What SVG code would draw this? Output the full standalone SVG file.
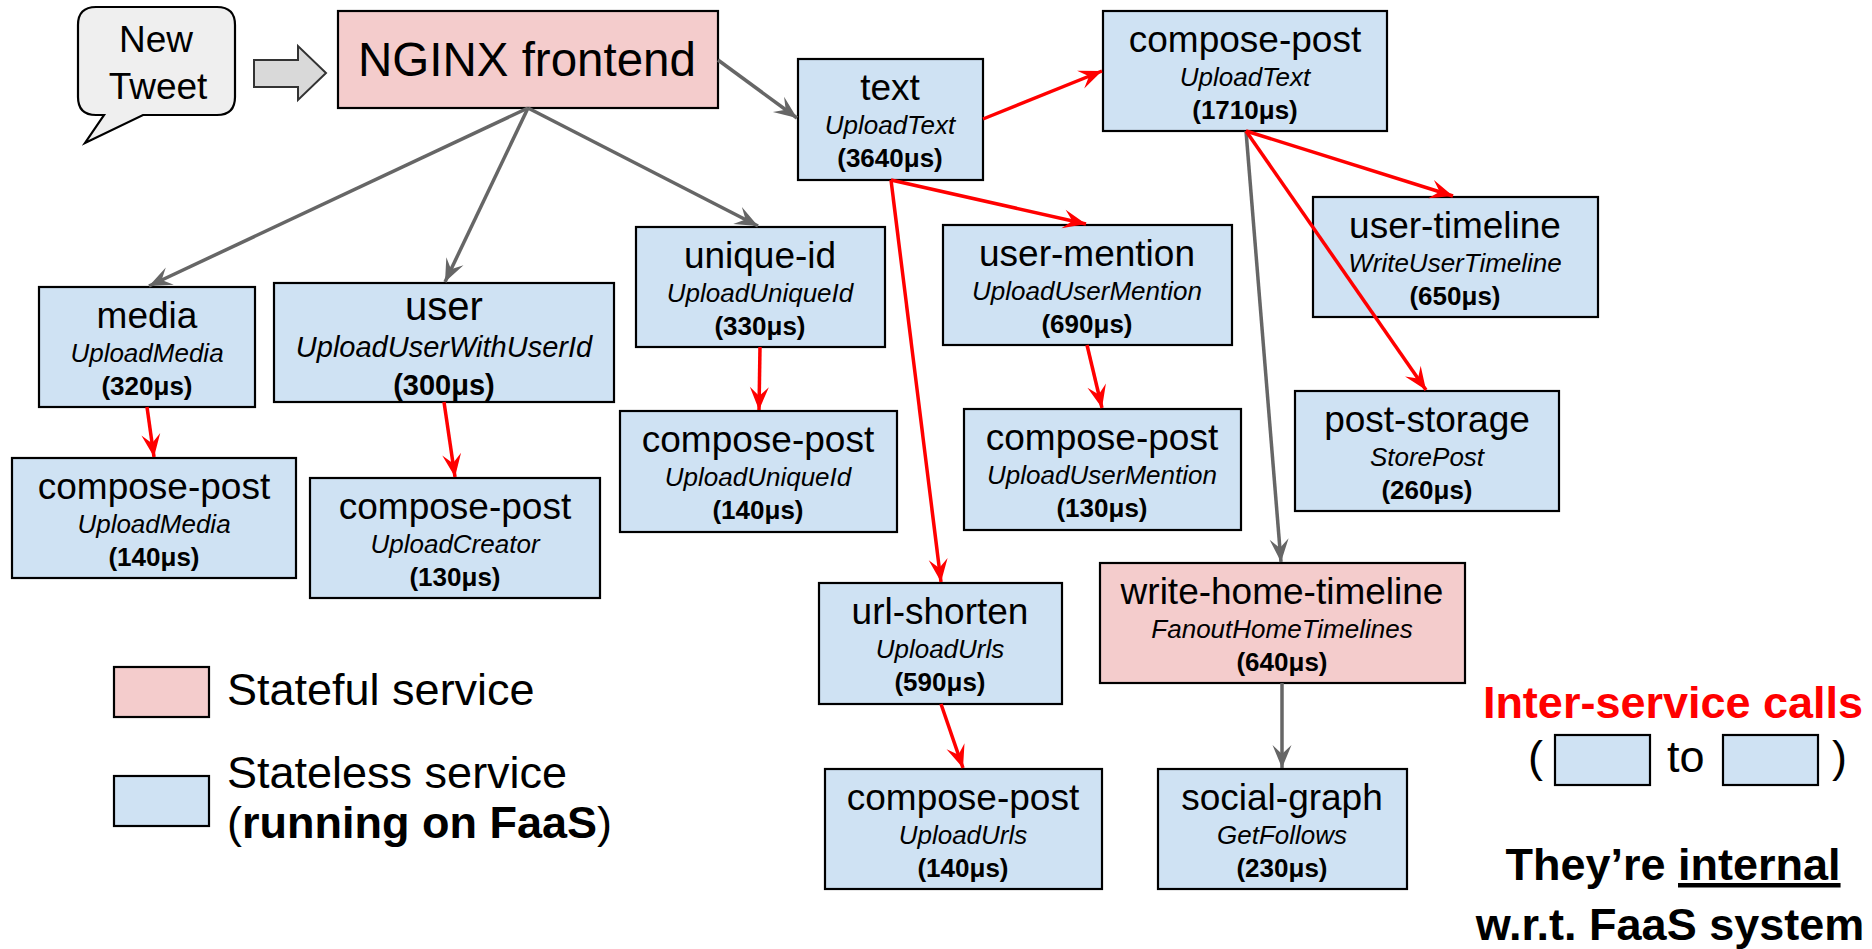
<svg xmlns="http://www.w3.org/2000/svg" width="1872" height="949" viewBox="0 0 1872 949">
  <style>
    text { font-family: "Liberation Sans", Arial, sans-serif; fill: #000; }
    .box { stroke: #000; stroke-width: 2.2; }
    .stateless { fill: #cfe2f3; }
    .stateful { fill: #f4cccc; }
    .t { font-size: 37px; text-anchor: middle; }
    .s { font-size: 26px; font-style: italic; text-anchor: middle; }
    .b { font-size: 26px; font-weight: bold; text-anchor: middle; }
    .tl { font-size: 40px; text-anchor: middle; }
    .sl { font-size: 29px; font-style: italic; text-anchor: middle; }
    .bl { font-size: 29px; font-weight: bold; text-anchor: middle; }
    .gray { stroke: #666; stroke-width: 3.5; fill: none; marker-end: url(#headGray); }
    .red { stroke: #f00; stroke-width: 3.5; fill: none; marker-end: url(#headRed); }
    .legend { font-size: 45px; }
    .note { font-size: 45px; font-weight: bold; text-anchor: middle; }
  </style>
  <defs>
    <marker id="headGray" markerUnits="userSpaceOnUse" markerWidth="26" markerHeight="22" viewBox="-24 -11 26 22" refX="0" refY="0" orient="auto">
      <path d="M0,0 L-23,-9.5 L-14,0 L-23,9.5 Z" fill="#666"/>
    </marker>
    <marker id="headRed" markerUnits="userSpaceOnUse" markerWidth="26" markerHeight="22" viewBox="-24 -11 26 22" refX="0" refY="0" orient="auto">
      <path d="M0,0 L-23,-9.5 L-14,0 L-23,9.5 Z" fill="#f00"/>
    </marker>
  </defs>
  <rect width="1872" height="949" fill="#fff"/>

  <!-- incoming request -->
  <g id="new-tweet">
    <path d="M96,7 H217 Q235,7 235,25 V97 Q235,115 217,115 H143 L85,143 L104,115 H96 Q78,115 78,97 V25 Q78,7 96,7 Z" fill="#efefef" stroke="#000" stroke-width="2.2"/>
    <text x="156" y="52" font-size="37" text-anchor="middle">New</text>
    <text x="158" y="99" font-size="37" text-anchor="middle">Tweet</text>
  </g>
  <g id="request-arrow">
    <path d="M254,60 H298 V46 L326,73 L298,100 V87 H254 Z" fill="#d9d9d9" stroke="#333" stroke-width="2"/>
  </g>

  <g id="nginx">
    <rect class="box stateful" x="338" y="11" width="380" height="97"/>
    <text x="527" y="76" font-size="47.5" text-anchor="middle">NGINX frontend</text>
  </g>

  <g id="text">
    <rect class="box stateless" x="798" y="59" width="185" height="121"/>
    <text class="t" x="890" y="100">text</text>
    <text class="s" x="890" y="134">UploadText</text>
    <text class="b" x="890" y="167">(3640μs)</text>
  </g>

  <g id="compose-post-text">
    <rect class="box stateless" x="1103" y="11" width="284" height="120"/>
    <text class="t" x="1245" y="52">compose-post</text>
    <text class="s" x="1245" y="86">UploadText</text>
    <text class="b" x="1245" y="119">(1710μs)</text>
  </g>

  <g id="media">
    <rect class="box stateless" x="39" y="287" width="216" height="120"/>
    <text class="t" x="147" y="328">media</text>
    <text class="s" x="147" y="362">UploadMedia</text>
    <text class="b" x="147" y="395">(320μs)</text>
  </g>

  <g id="user">
    <rect class="box stateless" x="274" y="283" width="340" height="119"/>
    <text class="tl" x="444" y="320">user</text>
    <text class="sl" x="444" y="357">UploadUserWithUserId</text>
    <text class="bl" x="444" y="395">(300μs)</text>
  </g>

  <g id="compose-post-media">
    <rect class="box stateless" x="12" y="458" width="284" height="120"/>
    <text class="t" x="154" y="499">compose-post</text>
    <text class="s" x="154" y="533">UploadMedia</text>
    <text class="b" x="154" y="566">(140μs)</text>
  </g>

  <g id="compose-post-creator">
    <rect class="box stateless" x="310" y="478" width="290" height="120"/>
    <text class="t" x="455" y="519">compose-post</text>
    <text class="s" x="455" y="553">UploadCreator</text>
    <text class="b" x="455" y="586">(130μs)</text>
  </g>

  <g id="unique-id">
    <rect class="box stateless" x="636" y="227" width="249" height="120"/>
    <text class="t" x="760" y="268">unique-id</text>
    <text class="s" x="760" y="302">UploadUniqueId</text>
    <text class="b" x="760" y="335">(330μs)</text>
  </g>

  <g id="compose-post-unique-id">
    <rect class="box stateless" x="620" y="411" width="277" height="121"/>
    <text class="t" x="758" y="452">compose-post</text>
    <text class="s" x="758" y="486">UploadUniqueId</text>
    <text class="b" x="758" y="519">(140μs)</text>
  </g>

  <g id="user-mention">
    <rect class="box stateless" x="943" y="225" width="289" height="120"/>
    <text class="t" x="1087" y="266">user-mention</text>
    <text class="s" x="1087" y="300">UploadUserMention</text>
    <text class="b" x="1087" y="333">(690μs)</text>
  </g>

  <g id="compose-post-user-mention">
    <rect class="box stateless" x="964" y="409" width="277" height="121"/>
    <text class="t" x="1102" y="450">compose-post</text>
    <text class="s" x="1102" y="484">UploadUserMention</text>
    <text class="b" x="1102" y="517">(130μs)</text>
  </g>

  <g id="user-timeline">
    <rect class="box stateless" x="1313" y="197" width="285" height="120"/>
    <text class="t" x="1455" y="238">user-timeline</text>
    <text class="s" x="1455" y="272">WriteUserTimeline</text>
    <text class="b" x="1455" y="305">(650μs)</text>
  </g>

  <g id="post-storage">
    <rect class="box stateless" x="1295" y="391" width="264" height="120"/>
    <text class="t" x="1427" y="432">post-storage</text>
    <text class="s" x="1427" y="466">StorePost</text>
    <text class="b" x="1427" y="499">(260μs)</text>
  </g>

  <g id="url-shorten">
    <rect class="box stateless" x="819" y="583" width="243" height="121"/>
    <text class="t" x="940" y="624">url-shorten</text>
    <text class="s" x="940" y="658">UploadUrls</text>
    <text class="b" x="940" y="691">(590μs)</text>
  </g>

  <g id="compose-post-urls">
    <rect class="box stateless" x="825" y="769" width="277" height="120"/>
    <text class="t" x="963" y="810">compose-post</text>
    <text class="s" x="963" y="844">UploadUrls</text>
    <text class="b" x="963" y="877">(140μs)</text>
  </g>

  <g id="write-home-timeline">
    <rect class="box stateful" x="1100" y="563" width="365" height="120"/>
    <text class="t" x="1282" y="604">write-home-timeline</text>
    <text class="s" x="1282" y="638">FanoutHomeTimelines</text>
    <text class="b" x="1282" y="671">(640μs)</text>
  </g>

  <g id="social-graph">
    <rect class="box stateless" x="1158" y="769" width="249" height="120"/>
    <text class="t" x="1282" y="810">social-graph</text>
    <text class="s" x="1282" y="844">GetFollows</text>
    <text class="b" x="1282" y="877">(230μs)</text>
  </g>

  <!-- connectors, drawn above the boxes -->
  <g id="connectors">
    <line class="gray" x1="718" y1="60" x2="797" y2="118"/>
    <line class="gray" x1="528" y1="108" x2="149" y2="286"/>
    <line class="gray" x1="528" y1="108" x2="445" y2="282"/>
    <line class="gray" x1="528" y1="108" x2="758" y2="226"/>
    <line class="gray" x1="1246" y1="131" x2="1281" y2="562"/>
    <line class="gray" x1="1282" y1="683" x2="1282" y2="768"/>

    <line class="red" x1="983" y1="119" x2="1102" y2="71"/>
    <line class="red" x1="891" y1="180" x2="1086" y2="224"/>
    <line class="red" x1="891" y1="180" x2="941" y2="582"/>
    <line class="red" x1="147" y1="407" x2="154" y2="457"/>
    <line class="red" x1="444" y1="402" x2="455" y2="477"/>
    <line class="red" x1="760" y1="347" x2="759" y2="410"/>
    <line class="red" x1="1087" y1="345" x2="1102" y2="408"/>
    <line class="red" x1="941" y1="704" x2="963" y2="768"/>
    <line class="red" x1="1246" y1="131" x2="1453" y2="196"/>
    <line class="red" x1="1246" y1="131" x2="1426" y2="390"/>
  </g>

  <!-- legend -->
  <g id="legend">
    <rect class="box stateful" x="114" y="667" width="95" height="50"/>
    <text class="legend" x="227" y="705">Stateful service</text>
    <rect class="box stateless" x="114" y="776" width="95" height="50"/>
    <text class="legend" x="227" y="788">Stateless service</text>
    <text class="legend" x="227" y="838">(<tspan font-weight="bold">running on FaaS</tspan>)</text>
  </g>

  <!-- note on inter-service calls -->
  <g id="note">
    <text class="note" x="1673" y="718" style="fill:#f00">Inter-service calls</text>
    <text class="legend" x="1528" y="772">(</text>
    <rect class="box stateless" x="1555" y="735" width="95" height="50" stroke-width="2"/>
    <text class="legend" x="1667" y="772">to</text>
    <rect class="box stateless" x="1723" y="735" width="95" height="50" stroke-width="2"/>
    <text class="legend" x="1832" y="772">)</text>
    <text class="note" x="1673" y="880">They’re <tspan text-decoration="underline">internal</tspan></text>
    <text class="note" x="1670" y="940">w.r.t. FaaS system</text>
  </g>
</svg>
